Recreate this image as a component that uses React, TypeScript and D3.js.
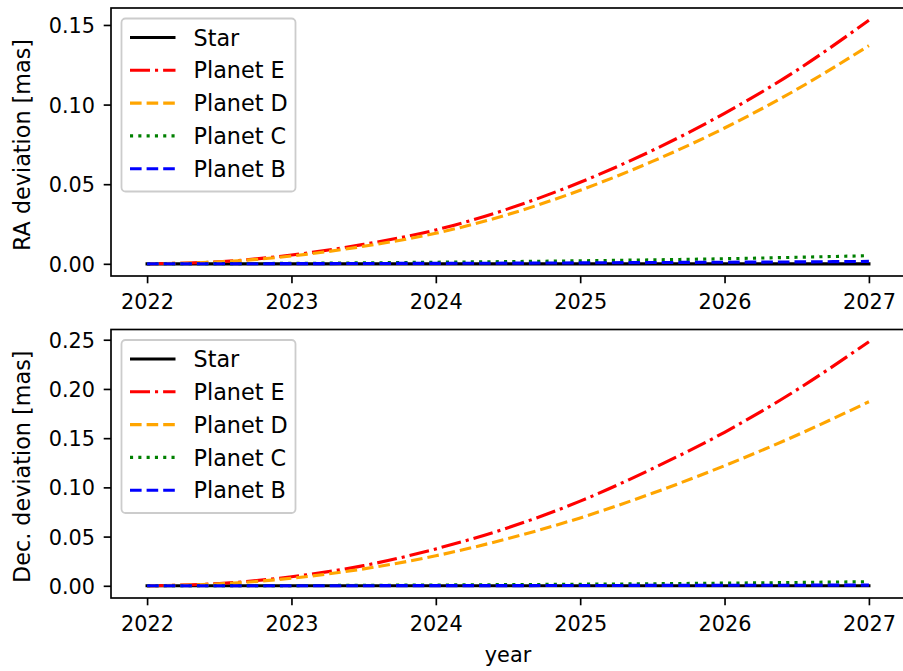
import { useEffect, useRef } from "react";
import * as d3 from "d3";

// sample epochs (years)
const years = [2022, 2022.5, 2023, 2023.5, 2024, 2024.5, 2025, 2025.5, 2026, 2026.5, 2027];

// RA deviation [mas]
const raStar = [0, 0, 0, 0, 0, 0, 0, 0, 0, 0, 0];
const raE = [0, 0.0013, 0.0055, 0.0122, 0.0213, 0.0345, 0.0512, 0.0712, 0.0945, 0.1215, 0.153];
const raD = [0, 0.0012, 0.0049, 0.011, 0.0192, 0.031, 0.0462, 0.0643, 0.0853, 0.1095, 0.137];
const raC = [0, 0.0001, 0.0003, 0.0006, 0.001, 0.0014, 0.0019, 0.0025, 0.0032, 0.0041, 0.0051];
const raB = [0, 0.00004, 0.0001, 0.0002, 0.0003, 0.0004, 0.0006, 0.0008, 0.001, 0.0012, 0.0015];

// Dec. deviation [mas]
const decStar = [0, 0, 0, 0, 0, 0, 0, 0, 0, 0, 0];
const decE = [0, 0.0023, 0.0092, 0.0205, 0.0375, 0.059, 0.086, 0.119, 0.156, 0.199, 0.248];
const decD = [0, 0.0019, 0.0077, 0.0172, 0.0305, 0.048, 0.069, 0.094, 0.122, 0.153, 0.187];
const decC = [0, 0.0001, 0.0002, 0.0005, 0.0008, 0.0012, 0.0016, 0.0021, 0.0027, 0.0034, 0.0042];
const decB = [0, 0, 0.00005, 0.0001, 0.00015, 0.0002, 0.0003, 0.0004, 0.0005, 0.0006, 0.0007];

const seriesNames = ["Star", "Planet E", "Planet D", "Planet C", "Planet B"];
const seriesColors = ["#000000", "#ff0000", "#ffa500", "#008000", "#0000ff"];
const seriesDashes = ["none", "20,5,3.1,5", "11.6,5", "3.1,5.2", "11.6,5"];

const xTicks = [2022, 2023, 2024, 2025, 2026, 2027];
const raTicks = [0, 0.05, 0.1, 0.15];
const decTicks = [0, 0.05, 0.1, 0.15, 0.2, 0.25];

const W = 903;
const H = 671;
const FS = 20.8; // tick labels
const FL = 22.3; // legend + axis labels
const LW = 3.125;
const SPINE = 1.67;
const FONT = "'DejaVu Sans', sans-serif";

export default function App() {
  const ref = useRef<SVGSVGElement | null>(null);

  useEffect(() => {
    const svg = d3.select(ref.current);
    svg.selectAll("*").remove();

    const left = 111;
    const right = 905;
    const x = d3.scaleLinear().domain([2021.75, 2027.25]).range([left, right]);

    const panels = [
      { top: 8, bottom: 276, series: [raStar, raE, raD, raC, raB], ticks: raTicks, label: "RA deviation [mas]", xlabel: "" },
      { top: 329.5, bottom: 598, series: [decStar, decE, decD, decC, decB], ticks: decTicks, label: "Dec. deviation [mas]", xlabel: "year" },
    ];

    panels.forEach((p) => {
      const all = p.series.flat();
      const lo = d3.min(all) as number;
      const hi = d3.max(all) as number;
      const m = (hi - lo) * 0.05;
      const y = d3.scaleLinear().domain([lo - m, hi + m]).range([p.bottom, p.top]);

      const g = svg.append("g");

      const line = d3
        .line<number>()
        .x((_, i) => x(years[i]))
        .y((d) => y(d))
        .curve(d3.curveMonotoneX);

      p.series.forEach((vals, i) => {
        g.append("path")
          .attr("d", line(vals) as string)
          .attr("fill", "none")
          .attr("stroke", seriesColors[i])
          .attr("stroke-width", LW)
          .attr("stroke-dasharray", seriesDashes[i])
          .attr("stroke-linecap", i === 0 ? "square" : "butt")
          .attr("stroke-linejoin", "round");
      });

      const xa = g
        .append("g")
        .attr("transform", `translate(0,${p.bottom})`)
        .call(d3.axisBottom(x).tickValues(xTicks).tickFormat(d3.format("d")).tickSize(7.3).tickPadding(9));
      const ya = g
        .append("g")
        .attr("transform", `translate(${left},0)`)
        .call(d3.axisLeft(y).tickValues(p.ticks).tickFormat(d3.format(".2f")).tickSize(7.3).tickPadding(9));

      [xa, ya].forEach((a) => {
        a.select(".domain").remove();
        a.selectAll("line").attr("stroke", "#000").attr("stroke-width", SPINE);
        a.selectAll("text").attr("fill", "#000").style("font-family", FONT).style("font-size", `${FS}px`);
      });
      xa.selectAll("text").attr("dy", null).attr("y", 33).attr("dominant-baseline", "alphabetic");
      ya.selectAll("text").attr("dy", "0.365em").attr("x", -16);

      // spines
      g.append("rect")
        .attr("x", left)
        .attr("y", p.top)
        .attr("width", right - left)
        .attr("height", p.bottom - p.top)
        .attr("fill", "none")
        .attr("stroke", "#000")
        .attr("stroke-width", SPINE);

      const cy = (p.top + p.bottom) / 2;
      g.append("text")
        .attr("transform", `translate(22,${cy + 3}) rotate(-90)`)
        .attr("text-anchor", "middle")
        .attr("dominant-baseline", "central")
        .style("font-family", FONT)
        .style("font-size", `${FL}px`)
        .text(p.label);

      if (p.xlabel) {
        g.append("text")
          .attr("x", (left + right) / 2)
          .attr("y", 662)
          .attr("text-anchor", "middle")
          .style("font-family", FONT)
          .style("font-size", `${FS}px`)
          .text(p.xlabel);
      }

      // legend
      const lx = left + 10.5;
      const ly = p.top + 10.5;
      const lg = g.append("g");
      lg.append("rect")
        .attr("x", lx)
        .attr("y", ly)
        .attr("width", 174)
        .attr("height", 173)
        .attr("rx", 4)
        .attr("fill", "#fff")
        .attr("fill-opacity", 0.8)
        .attr("stroke", "#cccccc")
        .attr("stroke-width", 1.8);
      seriesNames.forEach((name, i) => {
        const ry = p.top + 29.5 + i * 32.8;
        lg.append("line")
          .attr("x1", lx + 8.5)
          .attr("x2", lx + 54)
          .attr("y1", ry)
          .attr("y2", ry)
          .attr("stroke", seriesColors[i])
          .attr("stroke-width", LW)
          .attr("stroke-dasharray", seriesDashes[i])
          .attr("stroke-linecap", "butt");
        lg.append("text")
          .attr("x", lx + 72)
          .attr("y", ry)
          .attr("dy", "0.365em")
          .style("font-family", FONT)
          .style("font-size", `${FL}px`)
          .text(name);
      });
    });
  }, []);

  return (
    <div style={{ position: "absolute", left: 0, top: 0, width: W, height: H, background: "#fff" }}>
      <svg ref={ref} width={W} height={H} style={{ display: "block" }} />
    </div>
  );
}
